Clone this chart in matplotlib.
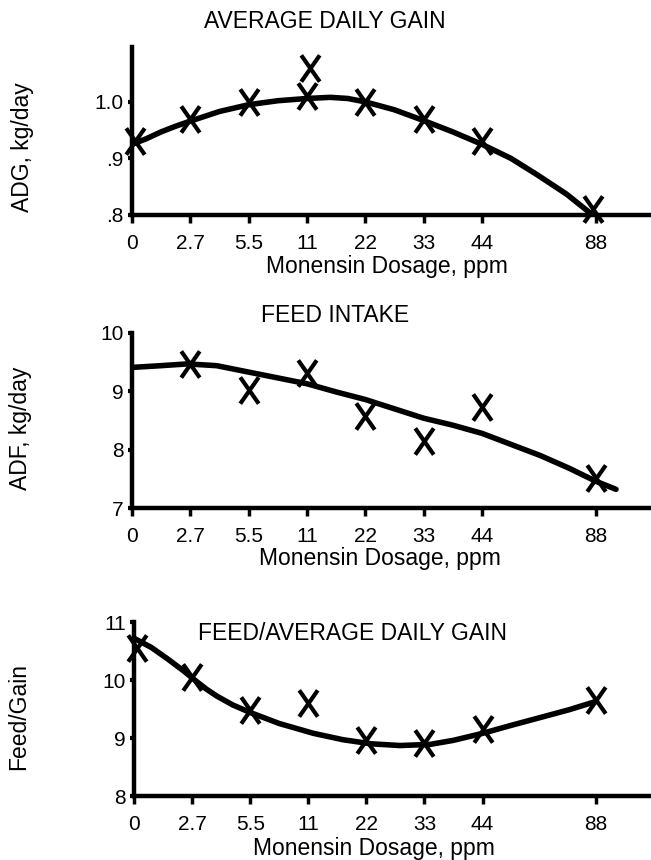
import matplotlib as mpl
mpl.use('Agg')
import matplotlib.pyplot as plt
from matplotlib.path import Path

plt.rcParams['font.family'] = ['Liberation Sans', 'DejaVu Sans']

# dosage categories and where they sit on the (hand drawn) axis
dose_labels = ['0', '2.7', '5.5', '11', '22', '33', '44', '88']
dose_pos = [0, 1, 2, 3, 4, 5, 6, 7.95]

# average daily gain, kg/day
adg_x = [0.05, 1, 2, 3, 3.05, 4, 5, 6, 7.9]
adg_y = [0.93, 0.97, 1.0, 1.01, 1.06, 1.0, 0.97, 0.93, 0.81]
adg_fit_x = [0, 0.25, 0.5, 0.75, 1, 1.5, 2, 2.5, 3, 3.4, 3.7, 4, 4.5, 5, 5.5, 6,
             6.5, 6.95, 7.45, 7.9]
adg_fit_y = [0.925, 0.935, 0.947, 0.957, 0.966, 0.983, 0.995, 1.002, 1.006, 1.008,
             1.006, 1.0, 0.986, 0.967, 0.947, 0.925, 0.9, 0.871, 0.837, 0.80]

# feed intake, kg/day
fi_x = [1, 2, 3, 4, 5, 6, 7.95]
fi_y = [9.47, 9.02, 9.31, 8.58, 8.14, 8.73, 7.51]
fi_fit_x = [0, 0.5, 0.95, 1.45, 2.0, 2.5, 3.0, 3.5, 4.0, 4.5, 5.0, 5.5, 6.0, 6.5,
            7.0, 7.5, 7.95, 8.3]
fi_fit_y = [9.41, 9.44, 9.47, 9.44, 9.33, 9.23, 9.13, 8.99, 8.86, 8.7, 8.54, 8.42,
            8.28, 8.09, 7.9, 7.68, 7.46, 7.32]

# feed / gain
fg_x = [0.05, 1, 2, 3, 4, 5, 6, 7.95]
fg_y = [10.56, 10.05, 9.48, 9.6, 8.97, 8.91, 9.15, 9.66]
fg_fit_x = [0, 0.3, 0.57, 0.85, 1.07, 1.25, 1.43, 1.7, 2.0, 2.5, 3.09, 3.6, 4.08,
            4.58, 5.1, 5.5, 6.0, 6.5, 7.02, 7.5, 7.95]
fg_fit_y = [10.72, 10.56, 10.37, 10.16, 9.98, 9.84, 9.72, 9.57, 9.44, 9.25, 9.08,
            8.97, 8.9, 8.87, 8.89, 8.96, 9.08, 9.22, 9.36, 9.49, 9.63]

# tall narrow X marker like the hand drawn ones
tallx = Path([(-0.35, -0.5), (0.35, 0.5), (-0.35, 0.5), (0.35, -0.5)],
             [Path.MOVETO, Path.LINETO, Path.MOVETO, Path.LINETO])

W, H = 651, 860
fig = plt.figure(figsize=(W / 100, H / 100), dpi=100)


def px(x0, y0, x1, y1):
    return [x0 / W, 1 - y1 / H, (x1 - x0) / W, (y1 - y0) / H]


def setup(ax, ylim, yticks, ylabels):
    ax.set_xlim(0, 8.9)
    ax.set_ylim(*ylim)
    for s in ['top', 'right']:
        ax.spines[s].set_visible(False)
    for s in ['left', 'bottom']:
        ax.spines[s].set_linewidth(3.2)
        ax.spines[s].set_capstyle('projecting')
    ax.set_xticks(dose_pos)
    ax.set_xticklabels(dose_labels)
    ax.set_yticks(yticks)
    ax.set_yticklabels(ylabels)
    ax.tick_params(axis='x', direction='out', length=6, width=2.5, pad=8, labelsize=15)
    ax.tick_params(axis='y', direction='out', length=3, width=3, pad=3, labelsize=15)
    ax.patch.set_alpha(0)


def draw(ax, fx, fy, x, y):
    ax.plot(fx, fy, color='black', lw=4, solid_capstyle='round',
            solid_joinstyle='round', zorder=3)
    ax.plot(x, y, linestyle='none', marker=tallx, markersize=19, markeredgewidth=3,
            markeredgecolor='black', color='black', zorder=4, clip_on=False)


ax1 = fig.add_axes(px(132, 47, 651, 215))
setup(ax1, (0.8, 1.097), [0.8, 0.9, 1.0], ['.8', '.9', '1.0'])
draw(ax1, adg_fit_x, adg_fit_y, adg_x, adg_y)

ax2 = fig.add_axes(px(132, 333, 651, 508))
setup(ax2, (7, 10), [7, 8, 9, 10], ['7', '8', '9', '10'])
draw(ax2, fi_fit_x, fi_fit_y, fi_x, fi_y)

ax3 = fig.add_axes(px(134, 622, 651, 796))
setup(ax3, (8, 11), [8, 9, 10, 11], ['8', '9', '10', '11'])
draw(ax3, fg_fit_x, fg_fit_y, fg_x, fg_y)

tkw = dict(ha='center', va='center', fontsize=16.5)
fig.text(325 / W, 1 - 22 / H, 'AVERAGE DAILY GAIN', **tkw)
fig.text(335 / W, 1 - 315 / H, 'FEED INTAKE', **tkw)
fig.text(353 / W, 1 - 634 / H, 'FEED/AVERAGE DAILY GAIN', **tkw)

for xc, yc in [(387, 266), (380, 558), (374, 848)]:
    fig.text(xc / W, 1 - yc / H, 'Monensin Dosage, ppm', **tkw)

ykw = dict(ha='center', va='center', rotation=90, fontsize=16.5)
fig.text(23 / W, 1 - 147 / H, 'ADG, kg/day', **ykw)
fig.text(21 / W, 1 - 428 / H, 'ADF, kg/day', **ykw)
fig.text(19 / W, 1 - 717 / H, 'Feed/Gain', **ykw)

fig.savefig('out.png', dpi=100, facecolor='white')
